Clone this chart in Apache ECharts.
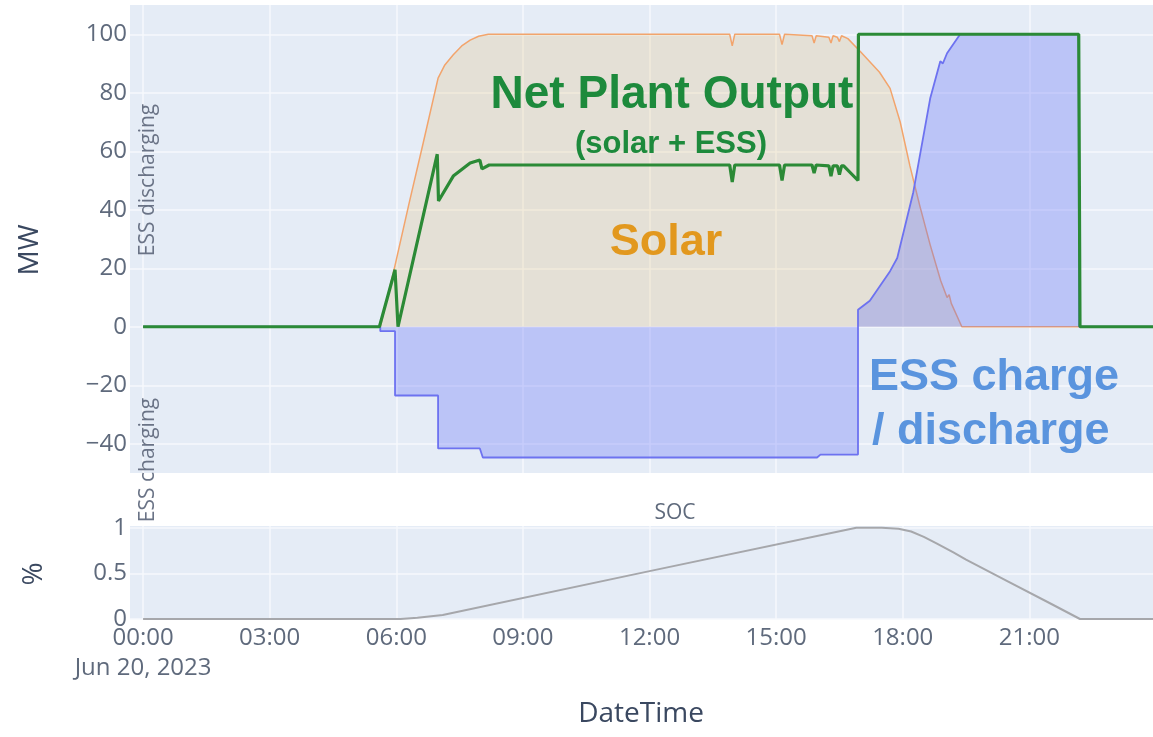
<!DOCTYPE html>
<html>
<head>
<meta charset="utf-8">
<script src="https://cdn.jsdelivr.net/npm/echarts@6/dist/echarts.min.js"></script>
<style>
html,body{margin:0;padding:0;background:#ffffff;}
#chart{width:1153px;height:737px;}
</style>
</head>
<body>
<div id="chart"></div>
<script>
// ---- data (hours since 00:00 Jun 20, 2023) ----
const solarHours = [0, 5.62, 5.97, 6.3, 6.64, 6.99, 7.15, 7.35, 7.55, 7.75, 7.95, 8.18, 13.9, 13.96, 14.02, 15.08, 15.14, 15.2, 15.85, 15.9, 15.95, 16.25, 16.3, 16.35, 16.45, 16.5, 16.55, 16.7, 17.0, 17.45, 17.7, 17.94, 18.17, 18.4, 18.65, 18.9, 19.05, 19.1, 19.15, 19.4, 23.93];
const solarMW    = [0, 0, 21, 42, 63, 85, 89.5, 93, 96, 98, 99.3, 100, 100, 96, 100, 100, 96.5, 100, 99.5, 97, 99.5, 99, 97, 99.5, 99, 97.5, 99.5, 98.5, 94, 87, 81.5, 70, 55, 41.6, 28, 15.7, 10, 11, 8, 0, 0];

const essHours = [0, 5.62, 5.62, 5.97, 5.97, 6.99, 6.99, 7.98, 8.05, 15.97, 16.05, 16.94, 16.94, 17.22, 17.7, 17.87, 18.25, 18.65, 18.89, 18.95, 19.05, 19.36, 22.17, 22.18, 23.93];
const essMW    = [0, 0, -1.5, -1.5, -23.5, -23.5, -41.6, -41.6, -44.7, -44.7, -43.7, -43.7, 5.8, 8.9, 19, 23.5, 46, 78, 90.8, 90, 93.5, 100, 100, 0, 0];

const netHours = [0, 5.6, 5.97, 6.04, 6.97, 7.0, 7.35, 7.75, 7.98, 8.03, 8.2, 13.9, 13.96, 14.02, 15.08, 15.14, 15.2, 15.85, 15.9, 15.95, 16.25, 16.3, 16.35, 16.45, 16.5, 16.55, 16.6, 16.94, 16.95, 22.17, 22.2, 23.93];
const netMW    = [0, 0, 19.5, 0, 59, 43, 51.5, 56, 57, 54, 55.3, 55.3, 49.5, 55.3, 55.3, 50, 55.3, 55.3, 52.5, 55.3, 55, 51.5, 55, 55, 52, 55, 55, 50, 100, 100, 0, 0];

const socHours = [0, 6.1, 6.5, 7.1, 12.0, 16.9, 17.5, 17.9, 18.2, 18.5, 18.8, 19.2, 19.5, 20.5, 21.5, 22.2, 23.93];
const socPct   = [0, 0, 0.015, 0.045, 0.525, 1.0, 1.0, 0.99, 0.96, 0.90, 0.83, 0.73, 0.65, 0.41, 0.17, 0, 0];

const xTickHours  = [0, 3, 6, 9, 12, 15, 18, 21];
const xTickLabels = ['00:00\nJun 20, 2023', '03:00', '06:00', '09:00', '12:00', '15:00', '18:00', '21:00'];
const mwTicks  = [-40, -20, 0, 20, 40, 60, 80, 100];
const socTicks = [0, 0.5, 1];

function pairs(xs, ys) { return xs.map((x, i) => [x, ys[i]]); }
function minusFmt(v) { return v < 0 ? '\u2212' + Math.abs(v) : String(v); }

const tickColor = '#5f6a7c';
const gridColor = '#f6f8fc';
const xMin = -0.31, xMax = 23.93;

const chart = echarts.init(document.getElementById('chart'), null, {renderer: 'canvas'});
chart.setOption({
  animation: false,
  backgroundColor: '#ffffff',
  grid: [
    {left: 130, right: 0, top: 5, height: 468, show: true, backgroundColor: '#e5ecf6', borderWidth: 0},
    {left: 130, right: 0, top: 526, height: 93, show: true, backgroundColor: '#e5ecf6', borderWidth: 0}
  ],
  xAxis: [
    {type: 'value', gridIndex: 0, min: xMin, max: xMax,
     axisLine: {show: false}, axisTick: {show: false, customValues: xTickHours},
     axisLabel: {show: false, customValues: xTickHours},
     splitLine: {show: true, lineStyle: {color: gridColor, width: 1.5}}},
    {type: 'value', gridIndex: 1, min: xMin, max: xMax,
     axisLine: {show: false}, axisTick: {show: false, customValues: xTickHours},
     axisLabel: {show: true, customValues: xTickHours, margin: 4,
       formatter: v => xTickLabels[xTickHours.indexOf(v)] || '',
       color: tickColor, fontFamily: 'Open Sans', fontSize: 24, lineHeight: 30},
     splitLine: {show: true, lineStyle: {color: gridColor, width: 1.5}}}
  ],
  yAxis: [
    {type: 'value', gridIndex: 0, min: -50, max: 110,
     axisLine: {show: false}, axisTick: {show: false, customValues: mwTicks},
     axisLabel: {customValues: mwTicks, formatter: minusFmt, margin: 3,
       color: tickColor, fontFamily: 'Open Sans', fontSize: 24},
     splitLine: {show: true, lineStyle: {color: gridColor, width: 1.5}}},
    {type: 'value', gridIndex: 1, min: 0, max: 1.02,
     axisLine: {show: false}, axisTick: {show: false, customValues: socTicks},
     axisLabel: {customValues: socTicks, margin: 3,
       color: tickColor, fontFamily: 'Open Sans', fontSize: 24},
     splitLine: {show: true, lineStyle: {color: gridColor, width: 1.5}}}
  ],
  series: [
    {name: 'Solar', type: 'line', xAxisIndex: 0, yAxisIndex: 0, data: pairs(solarHours, solarMW),
     showSymbol: false, lineStyle: {color: '#f2a46c', width: 1.5},
     areaStyle: {color: 'rgba(222,176,88,0.28)'}, z: 2},
    {name: 'ESS', type: 'line', xAxisIndex: 0, yAxisIndex: 0, data: pairs(essHours, essMW),
     showSymbol: false, lineStyle: {color: '#6d72f0', width: 1.8},
     areaStyle: {color: 'rgba(99,110,250,0.45)'}, z: 3},
    {name: 'Net Plant Output', type: 'line', xAxisIndex: 0, yAxisIndex: 0, data: pairs(netHours, netMW),
     showSymbol: false, lineStyle: {color: '#2b8a36', width: 3.2}, z: 4},
    {name: 'SOC', type: 'line', xAxisIndex: 1, yAxisIndex: 1, data: pairs(socHours, socPct),
     showSymbol: false, lineStyle: {color: '#a6a7ab', width: 2}, z: 3}
  ],
  graphic: [
    {type: 'text', x: 30, y: 250, rotation: Math.PI / 2, z: 100,
     style: {text: 'MW', font: '28px "Open Sans"', fill: '#3a4860', align: 'center', verticalAlign: 'middle'}},
    {type: 'text', x: 34, y: 574, rotation: Math.PI / 2, z: 100,
     style: {text: '%', font: '28px "Open Sans"', fill: '#3a4860', align: 'center', verticalAlign: 'middle'}},
    {type: 'text', x: 641, y: 714, z: 100,
     style: {text: 'DateTime', font: '28px "Open Sans"', fill: '#3a4860', align: 'center', verticalAlign: 'middle'}},
    {type: 'text', x: 148, y: 180, rotation: Math.PI / 2, z: 100,
     style: {text: 'ESS discharging', font: '21px "Open Sans"', fill: '#6a7386', align: 'center', verticalAlign: 'middle'}},
    {type: 'text', x: 148, y: 460, rotation: Math.PI / 2, z: 100,
     style: {text: 'ESS charging', font: '21px "Open Sans"', fill: '#6a7386', align: 'center', verticalAlign: 'middle'}},
    {type: 'text', x: 675, y: 513, z: 100,
     style: {text: 'SOC', font: '21px "Open Sans"', fill: '#5f6a7c', align: 'center', verticalAlign: 'middle'}},
    {type: 'text', x: 672, y: 95, z: 100,
     style: {text: 'Net Plant Output', font: 'bold 46px "Liberation Sans"', fill: '#1d8a3c', align: 'center', verticalAlign: 'middle'}},
    {type: 'text', x: 671, y: 144, z: 100,
     style: {text: '(solar + ESS)', font: 'bold 31px "Liberation Sans"', fill: '#1d8a3c', align: 'center', verticalAlign: 'middle'}},
    {type: 'text', x: 666, y: 243, z: 100,
     style: {text: 'Solar', font: 'bold 45px "Liberation Sans"', fill: '#e2981e', align: 'center', verticalAlign: 'middle'}},
    {type: 'text', x: 869, y: 378, z: 100,
     style: {text: 'ESS charge', font: 'bold 45px "Liberation Sans"', fill: '#5a94de', align: 'left', verticalAlign: 'middle'}},
    {type: 'text', x: 872, y: 432, z: 100,
     style: {text: '/ discharge', font: 'bold 45px "Liberation Sans"', fill: '#5a94de', align: 'left', verticalAlign: 'middle'}}
  ]
});
</script>
</body>
</html>
